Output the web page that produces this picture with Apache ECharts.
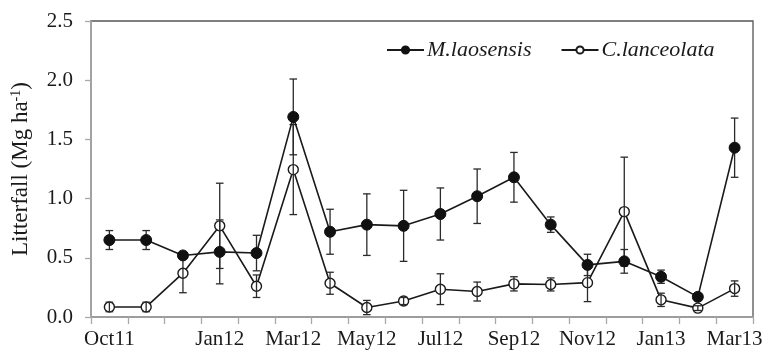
<!DOCTYPE html>
<html style="height: 100%">
<head>
    <meta charset="utf-8">
    <title>Litterfall</title>
</head>
<body style="margin: 0">
<div id="container" style="width: 775px; height: 353px"></div>

<script src="https://cdn.jsdelivr.net/npm/echarts@6.0.0/dist/echarts.min.js" type="text/javascript"></script>

<script type="text/javascript">

    // monthly collections, Oct 2011 - Mar 2013
    var months = ['Oct11', 'Nov11', 'Dec11', 'Jan12', 'Feb12', 'Mar12', 'Apr12', 'May12', 'Jun12',
        'Jul12', 'Aug12', 'Sep12', 'Oct12', 'Nov12', 'Dec12', 'Jan13', 'Feb13', 'Mar13'];
    var shownLabels = ['Oct11', 'Jan12', 'Mar12', 'May12', 'Jul12', 'Sep12', 'Nov12', 'Jan13', 'Mar13'];

    var mlaoMean = [0.65, 0.65, 0.52, 0.55, 0.54, 1.69, 0.72, 0.78, 0.77, 0.87, 1.02, 1.18, 0.78, 0.44, 0.47, 0.34, 0.17, 1.43];
    var mlaoErr  = [0.08, 0.08, 0.02, 0.27, 0.15, 0.32, 0.19, 0.26, 0.30, 0.22, 0.23, 0.21, 0.065, 0.09, 0.10, 0.056, 0.015, 0.25];

    var clanMean = [0.085, 0.085, 0.37, 0.77, 0.26, 1.245, 0.285, 0.08, 0.135, 0.235, 0.215, 0.28, 0.275, 0.29, 0.89, 0.145, 0.075, 0.24];
    var clanErr  = [0.04, 0.04, 0.165, 0.36, 0.095, 0.38, 0.093, 0.06, 0.03, 0.13, 0.08, 0.06, 0.055, 0.16, 0.46, 0.056, 0.02, 0.065];

    var fontName = 'Liberation Serif';
    var ink = '#1a1a1a';

    function errData(mean, err) {
        return mean.map(function (m, i) {
            return [i, m - err[i], m + err[i]];
        });
    }

    function renderErr(params, api) {
        var idx = api.value(0);
        var lo = api.coord([idx, api.value(1)]);
        var hi = api.coord([idx, api.value(2)]);
        var cap = 3.8;
        var st = {stroke: '#2a2a2a', lineWidth: 1.3};
        return {
            type: 'group',
            children: [
                {type: 'line', shape: {x1: hi[0], y1: hi[1], x2: lo[0], y2: lo[1]}, style: st},
                {type: 'line', shape: {x1: hi[0] - cap, y1: hi[1], x2: hi[0] + cap, y2: hi[1]}, style: st},
                {type: 'line', shape: {x1: lo[0] - cap, y1: lo[1], x2: lo[0] + cap, y2: lo[1]}, style: st}
            ]
        };
    }

    var dom = document.getElementById('container');
    var myChart = echarts.init(dom);

    var option = {
        animation: false,
        backgroundColor: '#fff',
        textStyle: {fontFamily: fontName},
        grid: {
            left: 91,
            right: 22,
            top: 21,
            bottom: 36,
            show: true,
            borderColor: '#555',
            borderWidth: 1.3,
            containLabel: false
        },
        legend: {
            left: 381,
            top: 34,
            itemWidth: 37,
            itemHeight: 9,
            itemGap: 29,
            textStyle: {fontFamily: fontName, fontStyle: 'italic', fontSize: 22, color: ink, padding: [0, 0, 0, -2]},
            data: ['M.laosensis', 'C.lanceolata']
        },
        xAxis: {
            type: 'category',
            data: months,
            boundaryGap: true,
            axisLine: {lineStyle: {color: '#a8a8a8', width: 1.5}},
            axisTick: {show: true, interval: 0, length: 7, lineStyle: {color: '#a8a8a8', width: 1.3}},
            axisLabel: {
                interval: function (i, v) { return shownLabels.indexOf(v) >= 0; },
                fontFamily: fontName,
                fontSize: 21,
                color: ink,
                margin: 12
            },
            splitLine: {show: false}
        },
        yAxis: {
            type: 'value',
            min: 0,
            max: 2.5,
            interval: 0.5,
            name: 'Litterfall (Mg ha{sup|-1})',
            nameLocation: 'middle',
            nameGap: 58,
            nameTextStyle: {
                fontFamily: fontName,
                fontSize: 23,
                color: ink,
                rich: {
                    sup: {fontFamily: fontName, fontSize: 14, color: ink, verticalAlign: 'top', padding: [0, 0, 10, 0]}
                }
            },
            axisLine: {show: true, lineStyle: {color: '#a8a8a8', width: 1.5}},
            axisTick: {show: true, length: 6, lineStyle: {color: '#a8a8a8', width: 1.3}},
            axisLabel: {
                formatter: function (v) { return v.toFixed(1); },
                fontFamily: fontName,
                fontSize: 21,
                color: ink,
                margin: 18
            },
            splitLine: {show: false}
        },
        series: [
            {
                name: 'C.lanceolata',
                type: 'line',
                z: 2,
                data: clanMean,
                symbol: 'circle',
                symbolSize: 10,
                itemStyle: {color: '#fff', borderColor: ink, borderWidth: 1.4},
                lineStyle: {color: ink, width: 1.6}
            },
            {
                name: 'C.lanceolata err',
                type: 'custom',
                z: 3,
                renderItem: renderErr,
                data: errData(clanMean, clanErr),
                encode: {x: 0, y: [1, 2]}
            },
            {
                name: 'M.laosensis err',
                type: 'custom',
                z: 4,
                renderItem: renderErr,
                data: errData(mlaoMean, mlaoErr),
                encode: {x: 0, y: [1, 2]}
            },
            {
                name: 'M.laosensis',
                type: 'line',
                z: 5,
                data: mlaoMean,
                symbol: 'circle',
                symbolSize: 11,
                itemStyle: {color: '#111', borderColor: '#111', borderWidth: 1},
                lineStyle: {color: ink, width: 1.6}
            }
        ]
    };

    if (option && typeof option === 'object') {
        myChart.setOption(option, true);
    }
</script>
</body>
</html>
